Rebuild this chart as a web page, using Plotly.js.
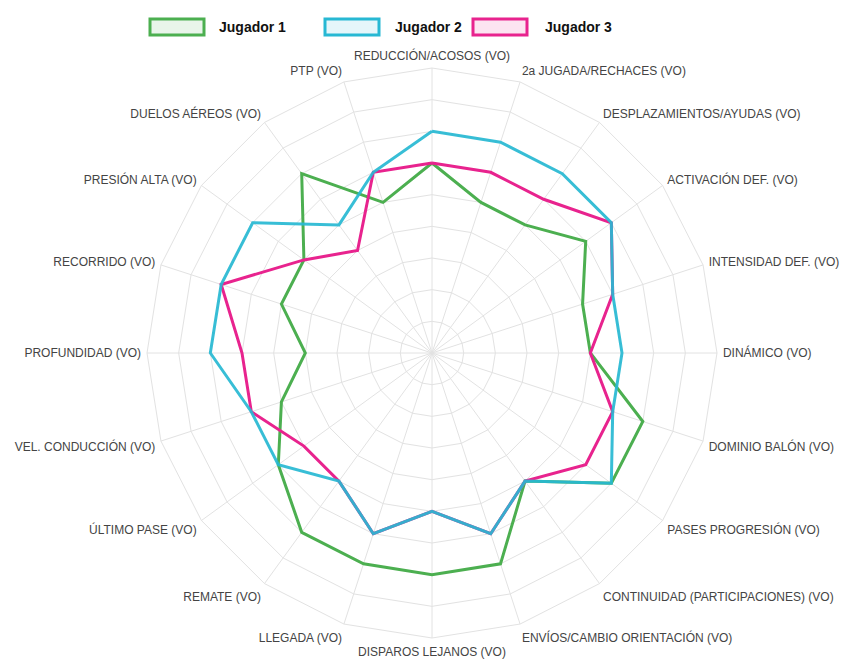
<!DOCTYPE html>
<html>
<head>
<meta charset="utf-8">
<script src="https://cdn.plot.ly/plotly-3.0.1.min.js"></script>
<style>html,body{margin:0;padding:0;background:#fff;}#chart{width:843px;height:659px;}</style>
</head>
<body>
<div id="chart"></div>
<script>
const categories = [
  "REDUCCIÓN/ACOSOS (VO)", "2a JUGADA/RECHACES (VO)", "DESPLAZAMIENTOS/AYUDAS (VO)",
  "ACTIVACIÓN DEF. (VO)", "INTENSIDAD DEF. (VO)", "DINÁMICO (VO)", "DOMINIO BALÓN (VO)",
  "PASES PROGRESIÓN (VO)", "CONTINUIDAD (PARTICIPACIONES) (VO)", "ENVÍOS/CAMBIO ORIENTACIÓN (VO)",
  "DISPAROS LEJANOS (VO)", "LLEGADA (VO)", "REMATE (VO)", "ÚLTIMO PASE (VO)",
  "VEL. CONDUCCIÓN (VO)", "PROFUNDIDAD (VO)", "RECORRIDO (VO)", "PRESIÓN ALTA (VO)",
  "DUELOS AÉREOS (VO)", "PTP (VO)"
];
const seriesNames = ["Jugador 1", "Jugador 2", "Jugador 3"];
const jugador1 = [60, 50, 50, 60, 50, 50, 70, 70, 50, 70, 70, 70, 70, 60, 50, 40, 50, 50, 70, 50];
const jugador2 = [70, 70, 70, 70, 60, 60, 60, 70, 50, 60, 50, 60, 50, 60, 60, 70, 70, 70, 50, 60];
const jugador3 = [60, 60, 60, 70, 60, 50, 60, 60, 50, 60, 50, 60, 50, 50, 60, 60, 70, 50, 40, 60];
const radialMax = 90;
const radialStep = 10;

const colors = ["#4caf50", "#27b8d3", "#e8238e"];
const legendFills = ["rgba(76,175,80,0.12)", "rgba(39,184,211,0.12)", "rgba(232,35,142,0.12)"];
const seriesValues = [jugador1, jugador2, jugador3];
const drawOrder = [0, 2, 1];

const closeLoop = arr => arr.concat([arr[0]]);

const traces = drawOrder.map(i => ({
  type: "scatterpolar",
  r: closeLoop(seriesValues[i]),
  theta: closeLoop(categories),
  name: seriesNames[i],
  mode: "lines",
  line: { color: colors[i], width: 3 },
  opacity: i === 1 ? 0.92 : 1,
  showlegend: false,
  hoverinfo: "skip"
}));

// legend drawn as boxes + labels
const legendBoxes = [[150, 204], [325, 379], [473, 527]];
const legendTextX = [217, 393, 543];
const W = 843, H = 659;
const shapes = [];
const annotations = [];
seriesNames.forEach((n, i) => {
  shapes.push({
    type: "rect", xref: "paper", yref: "paper",
    x0: legendBoxes[i][0] / W, x1: legendBoxes[i][1] / W,
    y0: 1 - 35 / H, y1: 1 - 19 / H,
    line: { color: colors[i], width: 3 },
    fillcolor: legendFills[i]
  });
  annotations.push({
    xref: "paper", yref: "paper", x: legendTextX[i] / W, y: 1 - 27 / H,
    xanchor: "left", yanchor: "middle", showarrow: false,
    text: "<b>" + n + "</b>",
    font: { family: "Liberation Sans, Arial, sans-serif", size: 14, color: "#111" }
  });
});

const layout = {
  width: W, height: H,
  margin: { l: 0, r: 0, t: 0, b: 0 },
  paper_bgcolor: "#fff",
  showlegend: false,
  shapes: shapes,
  annotations: annotations,
  polar: {
    domain: { x: [147 / W, 717 / W], y: [1 - 638 / H, 1 - 68 / H] },
    bgcolor: "#fff",
    gridshape: "linear",
    radialaxis: {
      range: [0, radialMax], dtick: radialStep, tick0: 0,
      showticklabels: false, ticks: "", showline: false,
      gridcolor: "#e2e2e2", gridwidth: 1
    },
    angularaxis: {
      type: "category",
      categoryarray: categories,
      direction: "clockwise", rotation: 90,
      ticks: "outside", ticklen: 3, tickcolor: "rgba(0,0,0,0)",
      showline: true, linecolor: "#e2e2e2", linewidth: 1,
      gridcolor: "#e2e2e2", gridwidth: 1,
      tickfont: { family: "Liberation Sans, Arial, sans-serif", size: 12, color: "#444" }
    }
  }
};

Plotly.newPlot("chart", traces, layout, { staticPlot: true, displayModeBar: false });
</script>
</body>
</html>
